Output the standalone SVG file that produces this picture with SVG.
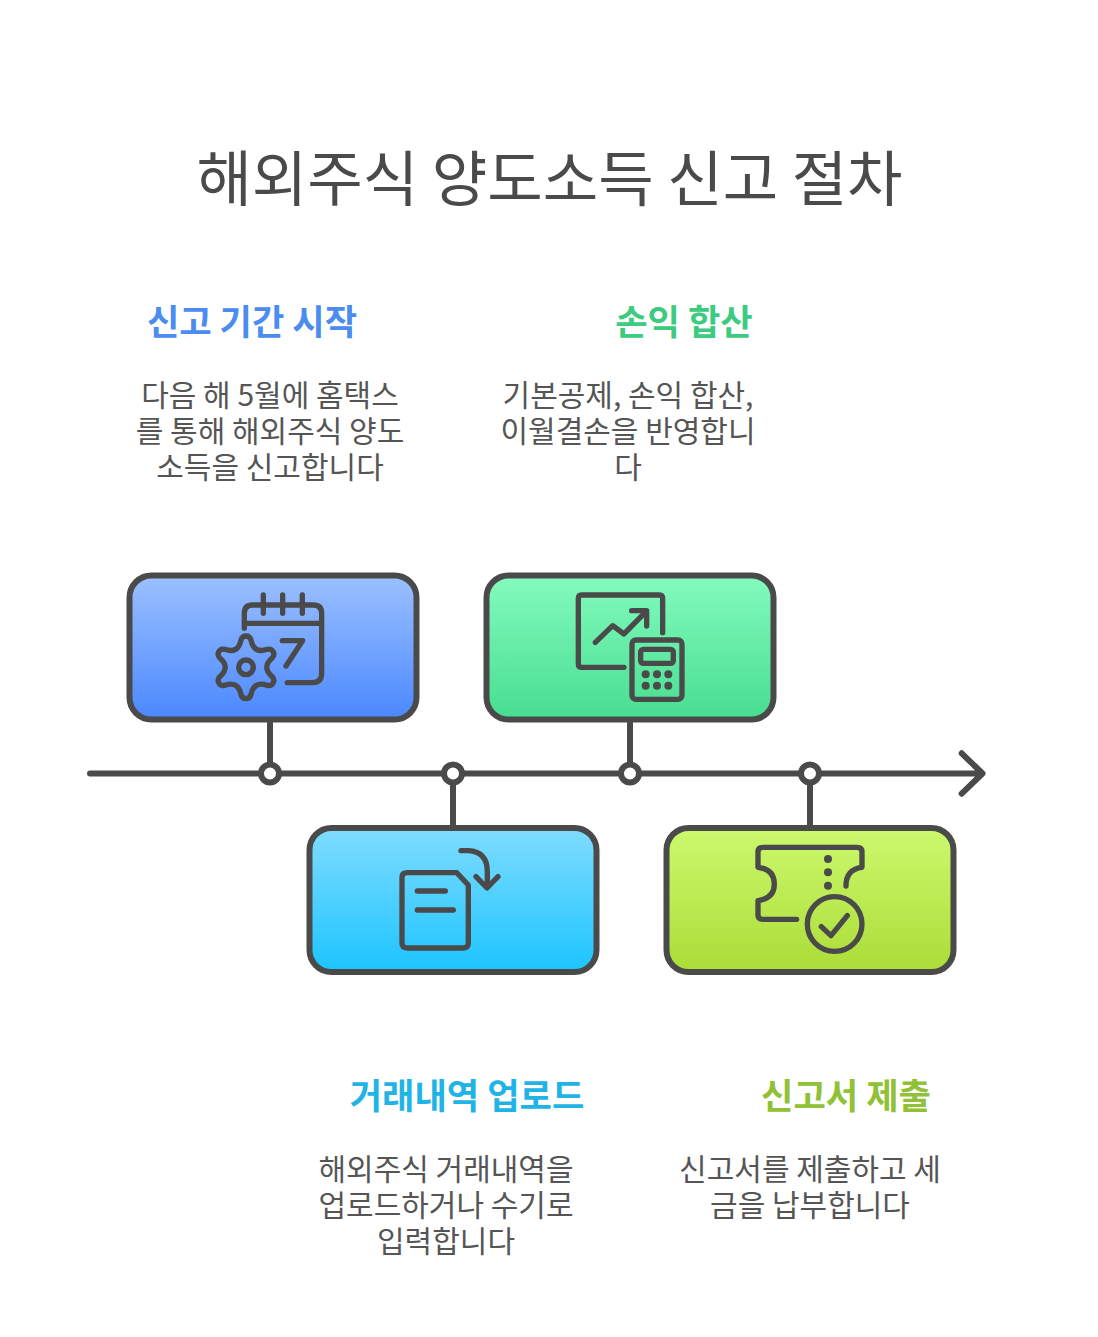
<svg xmlns="http://www.w3.org/2000/svg" width="1098" height="1337" viewBox="0 0 1098 1337">
<defs>
<linearGradient id="g1" x1="0" y1="0" x2="0" y2="1"><stop offset="0" stop-color="#9cc0ff"/><stop offset="1" stop-color="#4a88ff"/></linearGradient>
<linearGradient id="g2" x1="0" y1="0" x2="0" y2="1"><stop offset="0" stop-color="#84fbbe"/><stop offset="1" stop-color="#47dd90"/></linearGradient>
<linearGradient id="g3" x1="0" y1="0" x2="0" y2="1"><stop offset="0" stop-color="#80dcff"/><stop offset="1" stop-color="#1cc4ff"/></linearGradient>
<linearGradient id="g4" x1="0" y1="0" x2="0" y2="1"><stop offset="0" stop-color="#ccf96e"/><stop offset="1" stop-color="#abdc37"/></linearGradient>
</defs>
<style>
text{font-family:"Noto Sans CJK KR","Noto Sans",sans-serif;text-anchor:middle}
.title{font-size:60.3px;fill:#4a4a4a}
.h{font-size:35.2px;font-weight:700}
.d{font-size:30px;fill:#555}
.box{stroke:#4a4a4a;stroke-width:6}
.ln{fill:none;stroke:#4a4a4a;stroke-width:6;stroke-linecap:round;stroke-linejoin:round}
.dot{fill:#fff;stroke:#4a4a4a;stroke-width:6}
.ic{fill:none;stroke:#4a4a4a;stroke-width:16;stroke-linecap:round;stroke-linejoin:round}
.fd{fill:#4a4a4a}
</style>
<rect width="1098" height="1337" fill="#fff"/>
<text class="title" x="549.5" y="200.5">해외주식 양도소득 신고 절차</text>
<g id="connectors">
<path class="ln" d="M90 773.5H982M961.7 753.3L982.5 773.5L961.7 793.7"/>
<path class="ln" d="M270 719V764M453 783V828M630 719V764M810 783V828"/>
</g>
<g id="node-1">
<rect class="box" x="129.5" y="575.5" width="287" height="144" rx="22" fill="url(#g1)"/>
<g class="ic" transform="translate(120 560) scale(.3333)">
<path d="M373 205V160Q373 135 398 135H580Q605 135 605 160V340Q605 368 578 368H502M373 190H605M430 105V160M488 105V160M547 105V160M487 242H548L498 318"/>
<path d="M363 240C368 224 388 224 393 240Q401 282 441.5 268C458 264 468 282 456.5 294Q424 322 456.5 350C468 362 458 380 441.5 376Q401 362 393 404C388 420 368 420 363 404Q355 362 314.5 376C298 380 288 362 299.5 350Q332 322 299.5 294C288 282 298 264 314.5 268Q355 282 363 240Z"/>
<circle cx="378" cy="322" r="22"/>
</g>
<text class="h" x="252" y="335" fill="#4a8cf0">신고 기간 시작</text>
<text class="d" x="270" y="406">다음 해 5월에 홈택스</text>
<text class="d" x="270" y="442">를 통해 해외주식 양도</text>
<text class="d" x="270" y="478">소득을 신고합니다</text>
</g>
<g id="node-2">
<rect class="box" x="309.5" y="828" width="287" height="144" rx="22" fill="url(#g3)"/>
<g class="ic" transform="translate(300 760) scale(.3333)">
<path d="M322 338H470L505 375V550Q505 564 490 564H322Q306 564 306 550V352Q306 338 322 338ZM352 393H436M352 450H460M483 272H505Q562 275 562 335V382M528 350L561 384L594 350"/>
</g>
<text class="h" x="467" y="1109" fill="#1fb3e6">거래내역 업로드</text>
<text class="d" x="446" y="1180">해외주식 거래내역을</text>
<text class="d" x="446" y="1216">업로드하거나 수기로</text>
<text class="d" x="446" y="1252">입력합니다</text>
</g>
<g id="node-3">
<rect class="box" x="486.5" y="575.5" width="287" height="144" rx="22" fill="url(#g2)"/>
<g class="ic" transform="translate(480 560) scale(.3333)">
<path d="M548 218V115Q548 105 538 105H305Q295 105 295 115V312Q295 322 305 322H432M346 247L398 197L432 222L498 155M455 152H500V198"/>
<rect x="456" y="240" width="150" height="178" rx="12"/>
<rect x="482" y="268" width="98" height="42" rx="8"/>
</g>
<g class="fd" transform="translate(480 560) scale(.3333)">
<circle cx="497" cy="343" r="12"/><circle cx="531" cy="343" r="12"/><circle cx="565" cy="343" r="12"/>
<circle cx="497" cy="377" r="12"/><circle cx="531" cy="377" r="12"/><circle cx="565" cy="377" r="12"/>
</g>
<text class="h" x="684" y="335" fill="#3ccb80">손익 합산</text>
<text class="d" x="628" y="406">기본공제, 손익 합산,</text>
<text class="d" x="628" y="442">이월결손을 반영합니</text>
<text class="d" x="628" y="478">다</text>
</g>
<g id="node-4">
<rect class="box" x="666.5" y="828" width="287" height="144" rx="22" fill="url(#g4)"/>
<g class="ic" transform="translate(660 740) scale(.3333)">
<path d="M410 538H308Q294 538 294 525V482Q343 475 343 432Q343 388 294 382V335Q294 322 308 322H592Q606 322 606 335V382Q558 388 558 438M484 560L513 587L562 527"/>
<circle cx="524" cy="552" r="82"/>
</g>
<g class="fd" transform="translate(660 740) scale(.3333)">
<circle cx="504" cy="357" r="12"/><circle cx="504" cy="397" r="12"/><circle cx="504" cy="437" r="12"/>
</g>
<text class="h" x="846" y="1109" fill="#90c136">신고서 제출</text>
<text class="d" x="810" y="1180">신고서를 제출하고 세</text>
<text class="d" x="810" y="1216">금을 납부합니다</text>
</g>
<g id="timeline-dots">
<circle class="dot" cx="270" cy="773.5" r="9"/>
<circle class="dot" cx="453" cy="773.5" r="9"/>
<circle class="dot" cx="630" cy="773.5" r="9"/>
<circle class="dot" cx="810" cy="773.5" r="9"/>
</g>
</svg>
